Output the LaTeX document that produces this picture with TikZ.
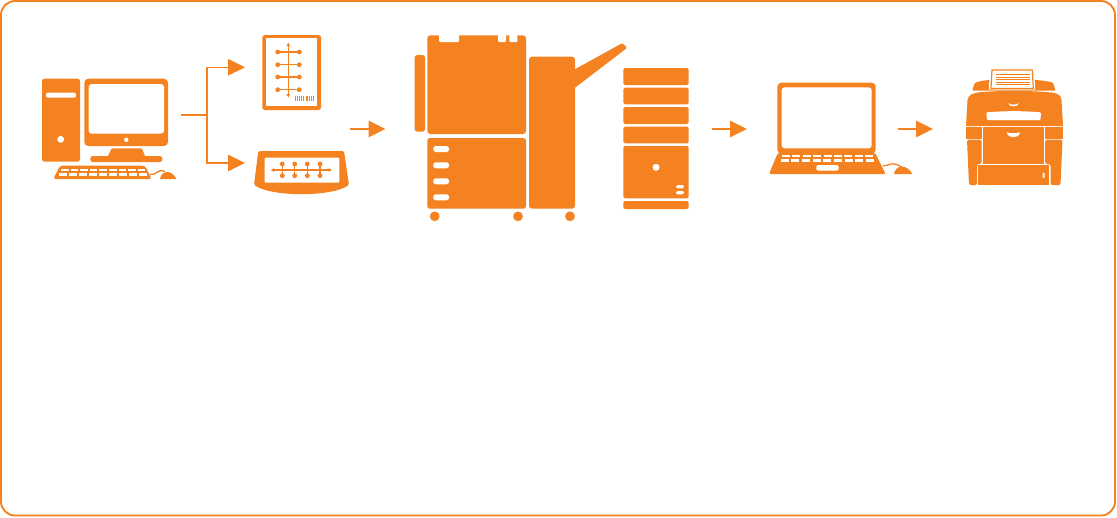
\documentclass[tikz,border=0pt]{standalone}
\usepackage{xcolor}
\usetikzlibrary{arrows.meta}
\definecolor{brand}{HTML}{F58220}

\begin{document}
\begin{tikzpicture}[
    x=1pt,y=-1pt,
    solid part/.style={fill=brand,rounded corners=2.5pt},
    hole/.style={fill=white,rounded corners=1pt},
    wire/.style={draw=brand,line width=1.5pt},
    arr/.style={wire,-{Triangle[length=17pt,width=16.5pt]}},
    thin arr/.style={draw=brand,line width=1.1pt,-{Triangle[length=3.5pt,width=3.5pt]}}
  ]
    \useasboundingbox (0,0) rectangle (1117,517);
    \draw[brand,line width=1.9pt,rounded corners=14pt] (1,1) rectangle (1115,515.5);

    % desktop computer
    \fill[solid part] (42,78.7) rectangle (80,161.7);
    \fill[hole,rounded corners=2pt] (46,92.7) rectangle (76,97.7);
    \fill[white] (60.7,139.3) circle[radius=3.4pt];
    \fill[solid part,rounded corners=4pt] (84.3,78.7) rectangle (168,146);
    \fill[hole,rounded corners=3pt] (88.7,84) rectangle (164,133.7);
    \fill[white] (126.3,139.7) circle[radius=2.2pt];
    \fill[brand,rounded corners=1pt] (111.7,148.3) -- (141.7,148.3) -- (145.5,157) -- (107.5,157) -- cycle;
    \fill[solid part] (90.3,156) rectangle (162.3,162);
    \fill[solid part] (60,165.7) -- (145,165.7) -- (151.7,179) -- (53.3,179) -- cycle;
    \foreach \i in {0,...,8} {
      \fill[white] ({61+9.6*\i},169) rectangle +(7.6,2.2);
      \fill[white] ({58.5+10*\i},173.3) rectangle +(8,2.2);
    }
    \draw[wire,line width=1.3pt] (150,174.5) .. controls (156,176) and (158,168) .. (165,171.5);
    \fill[brand] (160,179) .. controls (161,171) and (171,168.5) .. (176.5,179) -- cycle;

    % job sheet
    \fill[solid part] (262.3,35) rectangle (321,110);
    \fill[white] (266,38.3) rectangle (317.3,106);
    \draw[thin arr,{Triangle[length=3.5pt,width=3.5pt]}-{Triangle[length=3.5pt,width=3.5pt]}] (288.3,42.7) -- (288.3,97.5);
    \foreach \y in {52,64.7,77,89.7} {
      \draw[brand,line width=1.1pt] (277.7,\y) -- (299.3,\y);
      \fill[brand] (277.7,\y) circle[radius=2.4pt];
      \fill[brand] (299.3,\y) circle[radius=2.4pt];
    }
    \foreach \x/\w in {295/1,297/0.7,299/1,301.3/0.7,303.3/1,305.5/0.7,307.3/0.7,309/1,311/0.7,313/1.1} {
      \fill[brand] (\x,96) rectangle +(\w,5);
    }

    % control panel
    \fill[brand,rounded corners=1.5pt] (258.3,151) -- (344,151) -- (349,185) .. controls (330,197) and (273,197) .. (254,185) -- cycle;
    \fill[hole] (264.7,157.7) rectangle (339.3,182.7);
    \draw[thin arr,{Triangle[length=3.5pt,width=3.5pt]}-{Triangle[length=3.5pt,width=3.5pt]}] (270.7,170) -- (332,170);
    \foreach \x in {282.3,294.7,307.3,320} {
      \draw[brand,line width=1.1pt] (\x,164) -- (\x,175.7);
      \fill[brand] (\x,164) circle[radius=2.4pt];
      \fill[brand] (\x,175.7) circle[radius=2.4pt];
    }

    % production press
    \fill[solid part] (414.7,55) rectangle (425,131.7);
    \fill[solid part,rounded corners=3pt] (427.3,35.3) rectangle (526,134);
    \fill[hole] (439,34) rectangle (459,42);
    \fill[hole] (498,34) rectangle (506,42);
    \fill[hole] (509.3,34) rectangle (517.3,42);
    \fill[solid part] (427.3,138) rectangle (526,208.7);
    \foreach \y in {146,162.3,178.3,194.3} {
      \fill[hole,rounded corners=2.5pt] (433.3,\y) rectangle +(15.7,6);
    }
    \fill[solid part,rounded corners=3pt] (529,56.7) rectangle (575,208.7);
    \fill[brand,rounded corners=1.5pt] (574,69.8) -- (622.5,43) -- (627.2,47.8) -- (574,88.5) -- cycle;
    \foreach \x in {434.7,518,570} {
      \fill[brand] (\x,216.3) circle[radius=4.9pt];
    }

    % server tower
    \foreach \y/\h in {68/17,87.7/16.6,107/17,126.7/16.6,201/8} {
      \fill[solid part,rounded corners=1.5pt] (623.3,\y) rectangle +(65.4,\h);
    }
    \fill[solid part,rounded corners=1.5pt] (623.3,146) rectangle (688.7,198.3);
    \fill[white] (656,167.3) circle[radius=3.5pt];
    \fill[hole,rounded corners=1.5pt] (676,185) rectangle (684,188.3);
    \fill[hole,rounded corners=1.5pt] (676,191) rectangle (684,194.3);

    % laptop
    \fill[solid part,rounded corners=4pt] (777.3,82.7) rectangle (875.7,153.6);
    \fill[hole,rounded corners=3pt] (781.7,87.3) rectangle (871.7,148.3);
    \fill[brand,rounded corners=2pt] (778,152.5) -- (875,152.5) -- (885.7,174) -- (769,174) -- cycle;
    \foreach \i in {0,...,8} {
      \fill[white] ({782+10.4*\i},155) rectangle +(8,2.3);
      \fill[white] ({780.5+10.7*\i},159.3) rectangle +(8,2.3);
    }
    \fill[hole,rounded corners=1.5pt] (816.3,165) rectangle (838.7,170.7);
    \draw[wire,line width=1.3pt] (883,166) .. controls (889,166) and (892,160) .. (903,168);
    \fill[brand] (894,174) .. controls (895,165) and (907,163.5) .. (912.3,174) -- cycle;

    % office printer
    \fill[brand,rounded corners=1pt] (972.3,90.7) -- (974.3,84) .. controls (976,81.5) and (985,80.5) .. (992,79.5) -- (1032,79.5) .. controls (1040,80.5) and (1052,81.5) .. (1053.5,84) -- (1055.5,90.7) -- cycle;
    \filldraw[fill=white,draw=white,line width=2.2pt] (991,69.8) -- (1033,69.8) -- (1034,88.5) -- (990,88.5) -- cycle;
    \filldraw[fill=white,draw=brand,line width=1.2pt] (992,70) -- (1032.3,70) -- (1033.3,88.5) -- (991,88.5) -- cycle;
    \foreach \y in {74.8,77.3,79.8,82.3,84.8} {
      \draw[brand,line width=0.9pt] (995.7,\y) -- (1030,\y);
    }
    \fill[brand] (966,126) -- (967.5,100) .. controls (968,94) and (975,92.7) .. (980,92.2) .. controls (1000,90.5) and (1030,90.5) .. (1048,92.2) .. controls (1056,92.7) and (1061,94) .. (1061.5,100) -- (1063,126) -- cycle;
    \fill[white] (1008,103.3) .. controls (1011,105) and (1016,105) .. (1019,103.3) .. controls (1017,107.5) and (1010,107.5) .. (1008,103.3) -- cycle;
    \fill[hole] (986.3,112.4) .. controls (1005,110.8) and (1023,110.8) .. (1041,112.4) -- (1040.5,120) -- (987,120) -- cycle;
    \fill[brand] (966,127) rectangle (981.5,138.5);
    \fill[brand] (1045.2,127) rectangle (1063,138.5);
    \fill[brand,rounded corners=2pt] (967,139.7) -- (981.5,139.7) -- (981.5,164) -- (977,164) -- (977,185) -- (969,185) -- cycle;
    \fill[brand,rounded corners=2pt] (1045.2,139.7) -- (1062.5,139.7) -- (1060.5,185) -- (1050.5,185) -- (1050.5,164) -- (1045.2,164) -- cycle;
    \fill[brand] (983,127) rectangle (1043.7,163.6);
    \fill[white] (1006.7,132.3) .. controls (1011,133.6) and (1016,133.6) .. (1020,132.3) .. controls (1019,139) and (1008,139) .. (1006.7,132.3) -- cycle;
    \fill[brand] (978.3,165.1) rectangle (1049,185);
    \fill[hole,rounded corners=0.8pt] (1042.7,172.7) rectangle (1044.7,178);

    % flow between the stations
    \coordinate (pcout) at (181,115);
    \coordinate (fork) at (207,115);
    \coordinate (sheetin) at (245,67.3);
    \coordinate (panelin) at (245,163);
    \coordinate (pressfrom) at (350.3,129);
    \coordinate (pressin) at (385.5,129);
    \coordinate (serverout) at (712.3,129);
    \coordinate (laptopin) at (747,129);
    \coordinate (laptopout) at (898.3,129);
    \coordinate (printerin) at (933,129);

    \draw[wire] (pcout) -- (fork);
    \draw[arr,line width=1.3pt] (fork) |- (sheetin);
    \draw[arr,line width=1.3pt] (fork) |- (panelin);
    \draw[arr] (pressfrom) -- (pressin);
    \draw[arr] (serverout) -- (laptopin);
    \draw[arr] (laptopout) -- (printerin);
  \end{tikzpicture}
\end{document}
